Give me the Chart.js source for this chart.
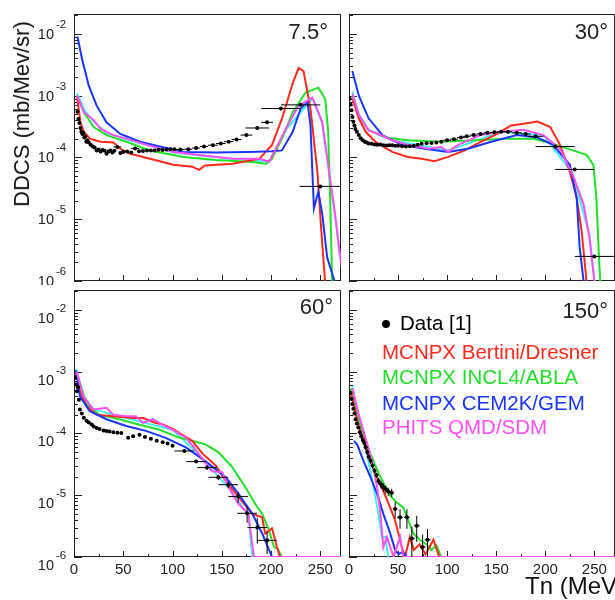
<!DOCTYPE html>
<html>
<head>
<meta charset="utf-8">
<script src="https://cdn.jsdelivr.net/npm/chart.js@4.4.1/dist/chart.umd.min.js"></script>
<style>
  html, body { margin: 0; padding: 0; background: #fff; overflow: hidden; }
  body { width: 615px; height: 600px; position: relative; font-family: 'Liberation Sans', Arial, sans-serif; }
  canvas { position: absolute; }
  .lbl { position: absolute; white-space: nowrap; line-height: 1; }
  .ang { font-size: 22px; color: #222; text-align: right; }
  .leg { font-size: 20.5px; left: 382px; }
</style>
</head>
<body>
<canvas id="c7" width="345" height="285" style="left:0;top:0"></canvas>
<canvas id="c30" width="274" height="285" style="left:345px;top:0"></canvas>
<canvas id="c60" width="345" height="314" style="left:0;top:286px"></canvas>
<canvas id="c150" width="274" height="314" style="left:345px;top:286px"></canvas>

<div class="lbl" style="left:21.5px;top:113.5px;font-size:22px;color:#111;transform:translate(-50%,-50%) rotate(-90deg)">DDCS (mb/Mev/sr)</div>
<div class="lbl" style="left:525px;top:574px;font-size:24px;color:#111">Tn (MeV)</div>

<div class="lbl ang" style="right:287px;top:21px">7.5°</div>
<div class="lbl ang" style="right:7px;top:21px">30°</div>
<div class="lbl ang" style="right:282px;top:296px">60°</div>
<div class="lbl ang" style="right:7px;top:300px">150°</div>

<div style="position:absolute;left:382px;top:320px;width:8px;height:8px;border-radius:50%;background:#000"></div>
<div class="lbl leg" style="left:400px;top:313px;color:#000">Data [1]</div>
<div class="lbl leg" style="top:342px;color:#ff2a1e">MCNPX Bertini/Dresner</div>
<div class="lbl leg" style="top:367px;color:#22dd2a">MCNPX INCL4/ABLA</div>
<div class="lbl leg" style="top:393px;color:#1a35ff">MCNPX CEM2K/GEM</div>
<div class="lbl leg" style="top:417px;color:#ff50f0">PHITS QMD/SDM</div>

<script>
// axis ticks
const X_TICKS = [0, 50, 100, 150, 200, 250];
const Y_TICKS = [1e-6, 1e-5, 1e-4, 1e-3, 1e-2];
const Y_TICK_EXP = ['-6', '-5', '-4', '-3', '-2'];

// ---- 7.5 deg ----
const T_DATA_7 = [3.5, 4.5, 5.5, 6.5, 7.5, 8.5, 9.5, 10.5, 11.5, 12.5, 13.5, 15, 17, 19, 21, 23, 25, 27, 29, 31, 33, 35, 37, 39, 41, 44, 47, 50, 54, 58, 62, 66, 70, 74, 78, 82, 86, 90, 94, 98, 102, 108, 116, 124, 132, 141, 149, 157, 165, 175, 186, 196, 210, 230, 250];
const V_DATA_7 = [5.5e-4, 4.2e-4, 3.6e-4, 3.0e-4, 2.6e-4, 2.4e-4, 2.5e-4, 2.1e-4, 2.2e-4, 1.8e-4, 1.9e-4, 1.75e-4, 1.6e-4, 1.5e-4, 1.45e-4, 1.3e-4, 1.35e-4, 1.25e-4, 1.32e-4, 1.28e-4, 1.15e-4, 1.25e-4, 1.3e-4, 1.2e-4, 1.28e-4, 1.48e-4, 1.18e-4, 1.22e-4, 1.25e-4, 1.2e-4, 1.4e-4, 1.26e-4, 1.27e-4, 1.3e-4, 1.3e-4, 1.3e-4, 1.33e-4, 1.32e-4, 1.34e-4, 1.36e-4, 1.36e-4, 1.34e-4, 1.36e-4, 1.42e-4, 1.5e-4, 1.58e-4, 1.68e-4, 1.8e-4, 1.95e-4, 2.3e-4, 3.0e-4, 3.7e-4, 6.2e-4, 7.1e-4, 3.4e-5];
const XERR_7 = [0, 0, 0, 0, 0, 0, 0, 0, 0, 0, 0, 0, 0, 0, 0, 0, 0, 0, 0, 0, 0, 0, 0, 0, 0, 4, 0, 0, 0, 0, 4, 0, 0, 0, 0, 0, 0, 0, 0, 0, 0, 4, 4, 4, 4, 5, 5, 5, 5, 6, 12, 6, 20, 20, 21];
const T_BER_7 = [3, 6.5, 10, 16.5, 27, 40, 48, 57, 77, 101, 120, 127, 133, 161, 188, 201, 211, 222, 228, 233, 240, 247, 251, 255, 258];
const V_BER_7 = [1.0e-3, 3.7e-4, 2.6e-4, 2.0e-4, 1.8e-4, 1.75e-4, 1.35e-4, 1.15e-4, 9.5e-5, 7.6e-5, 7.1e-5, 6.3e-5, 7.4e-5, 7.9e-5, 9.5e-5, 1.6e-4, 4.2e-4, 1.6e-3, 2.8e-3, 2.5e-3, 6.2e-4, 5.9e-5, 6.5e-6, 9e-7, 5e-7];
const T_INC_7 = [3, 10, 20, 33, 54, 77, 111, 144, 178, 195, 201, 211, 222, 235, 248, 255, 258, 260, 262, 264];
const V_INC_7 = [1.0e-3, 5.4e-4, 3.1e-4, 2.3e-4, 1.78e-4, 1.3e-4, 1.02e-4, 9.1e-5, 8.5e-5, 7.9e-5, 9.5e-5, 2.0e-4, 5.4e-4, 1.12e-3, 1.35e-3, 8.9e-4, 2.6e-4, 2.2e-5, 1.0e-6, 5e-7];
const T_CEM_7 = [3.5, 8.2, 15, 23, 33, 47, 67, 87, 111, 144, 178, 201, 211, 222, 230, 237, 240, 243.5, 248, 252, 257, 264, 267];
const V_CEM_7 = [9.1e-3, 3.9e-3, 1.45e-3, 6.9e-4, 3.7e-4, 2.4e-4, 1.8e-4, 1.5e-4, 1.23e-4, 1.2e-4, 1.23e-4, 1.26e-4, 1.3e-4, 2.6e-4, 6.2e-4, 7.8e-4, 3.3e-4, 1.5e-5, 2.8e-5, 1.2e-5, 2.4e-6, 1.05e-6, 5e-7];
const T_QMD_7 = [3, 10, 20, 27, 40, 54, 74, 101, 127, 161, 188, 198, 205, 215, 228, 242, 252, 258, 265, 270, 274];
const V_QMD_7 = [1.0e-3, 5.4e-4, 4.0e-4, 2.9e-4, 2.3e-4, 2.0e-4, 1.6e-4, 1.23e-4, 1.1e-4, 9.5e-5, 9.5e-5, 8.5e-5, 1.38e-4, 2.9e-4, 6.9e-4, 9.3e-4, 3.7e-4, 7.6e-5, 1.2e-5, 2.6e-6, 1e-6];
const T_CYN_7 = [3, 10, 20, 33, 54, 101, 161, 198, 215, 242, 252, 265, 270];
const V_CYN_7 = [1.1e-3, 6.0e-4, 3.8e-4, 2.5e-4, 1.95e-4, 1.2e-4, 9.4e-5, 8.6e-5, 2.8e-4, 9.0e-4, 3.6e-4, 1.1e-5, 2.4e-6];

// ---- 30 deg ----
const T_DATA_30 = [0.7, 1.5, 2.5, 3.5, 4.5, 5.5, 6.5, 8, 10, 12, 14, 16, 18, 20, 23, 26, 29, 32, 35, 38, 41, 44, 47, 50, 54, 58, 62, 66, 70, 74, 79, 84, 89, 94, 100, 107, 114, 120, 127, 134, 141, 148, 155, 162, 171, 180, 190, 210, 230, 250];
const V_DATA_30 = [8.9e-4, 7.2e-4, 5.8e-4, 4.5e-4, 3.8e-4, 3.3e-4, 2.9e-4, 2.6e-4, 2.3e-4, 2.05e-4, 1.9e-4, 1.8e-4, 1.75e-4, 1.68e-4, 1.66e-4, 1.62e-4, 1.6e-4, 1.62e-4, 1.58e-4, 1.56e-4, 1.58e-4, 1.58e-4, 1.55e-4, 1.55e-4, 1.52e-4, 1.5e-4, 1.52e-4, 1.55e-4, 1.6e-4, 1.66e-4, 1.7e-4, 1.72e-4, 1.75e-4, 1.8e-4, 1.9e-4, 1.98e-4, 2.1e-4, 2.2e-4, 2.3e-4, 2.4e-4, 2.5e-4, 2.55e-4, 2.6e-4, 2.6e-4, 2.5e-4, 2.4e-4, 2.2e-4, 1.5e-4, 6.4e-5, 2.5e-6];
const XERR_30 = [0, 0, 0, 0, 0, 0, 0, 0, 0, 0, 0, 0, 0, 0, 0, 0, 0, 0, 0, 0, 0, 0, 0, 0, 0, 0, 0, 0, 0, 0, 0, 0, 0, 0, 4, 4, 4, 4, 4, 4, 4, 4, 4, 4, 5, 5, 8, 20, 20, 20];
const T_BER_30 = [3.4, 10, 17, 27, 44, 60, 74, 87, 101, 118, 134, 151, 165, 178, 192, 205, 215, 225, 232, 237, 242, 244];
const V_BER_30 = [8.9e-4, 4.3e-4, 2.6e-4, 1.78e-4, 1.23e-4, 1.02e-4, 9.5e-5, 8.7e-5, 1.02e-4, 1.3e-4, 1.78e-4, 2.4e-4, 3.3e-4, 3.5e-4, 3.8e-4, 3.1e-4, 1.6e-4, 5.9e-5, 2.2e-5, 6.5e-6, 1e-6, 5e-7];
const T_INC_30 = [3.4, 10, 20, 37, 60, 94, 128, 161, 188, 208, 228, 242, 249, 252, 255, 257];
const V_INC_30 = [1.0e-3, 4.8e-4, 2.75e-4, 2.1e-4, 1.9e-4, 1.8e-4, 1.9e-4, 2.0e-4, 2.0e-4, 1.66e-4, 1.3e-4, 1.1e-4, 7.6e-5, 2.2e-5, 1.9e-6, 5e-7];
const T_CEM_30 = [3.4, 10, 20, 34, 54, 77, 101, 121, 144, 171, 192, 208, 225, 232, 235, 239, 241];
const V_CEM_30 = [2.5e-3, 1.0e-3, 4.3e-4, 2.3e-4, 1.6e-4, 1.38e-4, 1.23e-4, 1.38e-4, 1.78e-4, 2.3e-4, 2.1e-4, 1.6e-4, 7.6e-5, 2.2e-5, 3.5e-6, 1e-6, 5e-7];
const T_QMD_30 = [3.4, 10, 20, 30, 44, 60, 81, 94, 101, 111, 134, 155, 178, 198, 215, 228, 239, 245, 250, 252];
const V_QMD_30 = [1.07e-3, 4.8e-4, 2.75e-4, 2.4e-4, 1.9e-4, 1.6e-4, 1.38e-4, 1.48e-4, 1.23e-4, 1.6e-4, 2.3e-4, 2.6e-4, 2.8e-4, 2.3e-4, 1.38e-4, 5.2e-5, 1.74e-5, 5e-6, 1e-6, 5e-7];
const T_CYN_30 = [3.4, 10, 20, 44, 101, 155, 198, 228, 245, 250, 252];
const V_CYN_30 = [1.15e-3, 5.0e-4, 2.8e-4, 1.9e-4, 1.3e-4, 2.6e-4, 2.3e-4, 5.5e-5, 5.5e-6, 1e-6, 5e-7];

// ---- 60 deg ----
const T_DATA_60 = [1, 2, 3, 4, 5, 6, 8, 10, 12.8, 15, 18, 20, 23, 26, 30, 33, 36, 40, 44, 48, 55, 60, 66.5, 72, 78, 84, 90, 95, 100, 112, 124, 135, 146.5, 156.6, 166.7, 175.7, 186, 196];
const V_DATA_60 = [7.9e-4, 6.2e-4, 4.8e-4, 5.6e-4, 3.5e-4, 2.45e-4, 2.1e-4, 1.8e-4, 1.6e-4, 1.5e-4, 1.4e-4, 1.3e-4, 1.23e-4, 1.18e-4, 1.12e-4, 1.1e-4, 1.08e-4, 1.05e-4, 1.03e-4, 1.02e-4, 8.5e-5, 9.0e-5, 9.5e-5, 8.8e-5, 8.2e-5, 7.6e-5, 7.2e-5, 6.9e-5, 6.3e-5, 5.2e-5, 3.5e-5, 2.8e-5, 1.95e-5, 1.48e-5, 9.5e-6, 5.1e-6, 3.0e-6, 1.86e-6];
const XERR_60 = [0, 0, 0, 0, 0, 0, 0, 0, 0, 0, 0, 0, 0, 0, 0, 0, 0, 0, 0, 0, 0, 0, 0, 0, 0, 0, 0, 0, 0, 10, 10, 10, 10, 10, 10, 10, 10, 10];
const YERR_60 = [0, 0, 0, 0, 0, 0, 0, 0, 0, 0, 0, 0, 0, 0, 0, 0, 0, 0, 0, 0, 0, 0, 0, 0, 0, 0, 0, 0, 0, 0.05, 0.05, 0.08, 0.1, 0.12, 0.2, 0.3, 0.45, 0.4];
const T_BER_60 = [2, 6, 12.8, 23, 40, 60, 70, 83, 90, 100, 110, 120, 130, 144, 154, 167, 181, 191, 194, 201, 206, 209, 211];
const V_BER_60 = [1.0e-3, 4.8e-4, 2.75e-4, 2.0e-4, 1.9e-4, 1.78e-4, 1.78e-4, 1.48e-4, 1.4e-4, 1.2e-4, 9.5e-5, 7.6e-5, 4.8e-5, 3.0e-5, 1.7e-5, 9.3e-6, 5.0e-6, 4.4e-6, 2.4e-6, 2.9e-6, 1.45e-6, 1e-6, 5e-7];
const T_INC_60 = [2, 12.8, 26, 46, 66.5, 87, 107, 120, 134, 147, 161, 174, 184, 191, 198, 203, 207, 211, 213];
const V_INC_60 = [1.05e-3, 2.95e-4, 2.0e-4, 1.7e-4, 1.38e-4, 1.15e-4, 8.5e-5, 7.6e-5, 6.6e-5, 4.9e-5, 2.8e-5, 1.35e-5, 7.2e-6, 5.0e-6, 2.7e-6, 1.45e-6, 1.35e-6, 1e-6, 5e-7];
const T_CEM_60 = [2, 6, 16, 33, 53, 73, 93, 114, 134, 154, 167, 181, 191, 198, 201, 203];
const V_CEM_60 = [1.05e-3, 4.0e-4, 2.3e-4, 1.7e-4, 1.32e-4, 1.1e-4, 8.5e-5, 5.9e-5, 3.5e-5, 1.95e-5, 1.05e-5, 5.0e-6, 2.4e-6, 1.3e-6, 1e-6, 5e-7];
const T_QMD_60 = [2.7, 9.4, 19.5, 33, 40, 53, 63, 70, 80, 90, 100, 114, 127, 140, 150.5, 157, 167, 177, 182.5, 271];
const V_QMD_60 = [1.0e-3, 4.0e-4, 2.45e-4, 2.6e-4, 2.0e-4, 1.9e-4, 1.9e-4, 1.48e-4, 1.7e-4, 1.38e-4, 1.15e-4, 8.5e-5, 4.6e-5, 2.45e-5, 2.35e-5, 1.35e-5, 7.2e-6, 5.0e-6, 1e-6, 1e-6];
const T_CYN_60 = [2, 9.4, 19.5, 40, 100, 127, 157, 177, 181, 185];
const V_CYN_60 = [1.1e-3, 4.1e-4, 2.5e-4, 2.0e-4, 1.15e-4, 4.5e-5, 1.3e-5, 4.8e-6, 1e-6, 5e-7];

// ---- 150 deg ----
const T_DATA_150 = [1.5, 2.5, 3.5, 4.5, 5.5, 6.7, 8, 9.5, 11, 12.5, 14, 15.5, 17, 18.5, 20, 22, 24, 26, 28, 30, 32.5, 35, 37.5, 40, 43.5, 47, 52, 59, 64, 69, 75, 80];
const V_DATA_150 = [4.5e-4, 3.6e-4, 3.0e-4, 2.5e-4, 2.1e-4, 1.7e-4, 1.45e-4, 1.25e-4, 1.05e-4, 9.0e-5, 7.8e-5, 7.0e-5, 6.0e-5, 5.0e-5, 4.2e-5, 3.6e-5, 3.0e-5, 2.5e-5, 2.1e-5, 1.7e-5, 1.5e-5, 1.35e-5, 1.25e-5, 1.15e-5, 1.1e-5, 6.0e-6, 4.4e-6, 4.4e-6, 2.0e-6, 3.2e-6, 1.45e-6, 1.9e-6];
const XERR_150 = [1, 1, 1, 1, 1, 1, 1, 1, 1, 1, 1.5, 1.5, 1.5, 1.5, 1.5, 1.5, 1.5, 1.5, 1.5, 1.5, 2.5, 2.5, 2.5, 2.5, 2.5, 2.5, 3, 3, 3, 3, 3, 3];
const YERR_150 = [0.05, 0.05, 0.05, 0.05, 0.05, 0.05, 0.05, 0.05, 0.1, 0.1, 0.1, 0.1, 0.1, 0.1, 0.1, 0.1, 0.1, 0.1, 0.1, 0.12, 0.15, 0.15, 0.15, 0.15, 0.15, 0.3, 0.35, 0.35, 0.55, 0.45, 0.6, 0.5];
const T_BER_150 = [1.7, 8.4, 15, 22, 28.6, 35, 42, 47, 50.4, 53.8, 57, 62, 66, 72, 78, 86, 92, 95];
const V_BER_150 = [4.8e-4, 1.6e-4, 7.6e-5, 3.5e-5, 1.95e-5, 1.17e-5, 6.3e-6, 3.9e-6, 2.4e-6, 1.45e-6, 1e-6, 2.1e-6, 1.3e-6, 1.6e-6, 1.1e-6, 1.9e-6, 1e-6, 5e-7];
const T_INC_150 = [1.7, 8.4, 15, 22, 32, 42, 48.7, 55.4, 60.5, 65.5, 72, 79, 84, 89, 94, 96];
const V_INC_150 = [5.4e-4, 2.0e-4, 9.5e-5, 4.6e-5, 1.95e-5, 9.8e-6, 7.6e-6, 6.3e-6, 3.9e-6, 2.4e-6, 1.9e-6, 1.6e-6, 1.3e-6, 1.55e-6, 1e-6, 5e-7];
const T_CEM_150 = [5, 8.4, 15, 22, 28.6, 35, 42, 47, 50.4, 55, 59, 61];
const V_CEM_150 = [7.6e-5, 6.6e-5, 3.5e-5, 1.95e-5, 1.05e-5, 5.0e-6, 2.4e-6, 1.3e-6, 1.12e-6, 1.2e-6, 1e-6, 5e-7];
const T_QMD_150 = [3.4, 10, 16.8, 23.5, 28.6, 32, 35, 38.6, 42, 45.4, 52, 55.4, 271];
const V_QMD_150 = [5.4e-4, 2.0e-4, 8.5e-5, 3.5e-5, 1.35e-5, 5.0e-6, 1.45e-6, 2.1e-6, 1.45e-6, 1e-6, 2.1e-6, 1e-6, 1e-6];
const T_CYN_150 = [3.4, 10, 18.5, 25, 30, 33.6, 37, 40, 42];
const V_CYN_150 = [5.8e-4, 1.6e-4, 4.6e-5, 1.35e-5, 5.0e-6, 2.1e-6, 2.1e-6, 1e-6, 5e-7];

const colors = {
  ber: '#ff2a1e',
  inc: '#22e02a',
  cem: '#1a35ff',
  qmd: '#ff50f0',
  cyn: '#40f4f4'
};

const FONT = "'Liberation Sans', Arial, sans-serif";
Chart.defaults.font.family = FONT;

function pts(T, V) {
  return T.map((t, i) => ({x: t, y: V[i]}));
}

function curve(T, V, color) {
  return {data: pts(T, V), borderColor: color, borderWidth: 2, pointRadius: 0, tension: 0, fill: false};
}

function dataSet(T, V, xe, ye) {
  return {
    data: pts(T, V), showLine: false, pointRadius: 2, pointBackgroundColor: '#000',
    pointBorderWidth: 0, borderColor: '#000', errX: xe, errY: ye
  };
}

// ROOT style frame with inside ticks, and 10^n labels on the left
const rootFrame = {
  id: 'rootFrame',
  beforeDatasetsDraw(chart, args, opts) {
    const {ctx, chartArea: a, scales: {x, y}} = chart;
    ctx.save();
    ctx.strokeStyle = '#222';
    ctx.lineWidth = 1;
    ctx.beginPath();
    for (let e = -6; e <= -2; e++) {
      for (let m = 1; m <= 9; m++) {
        const v = m * Math.pow(10, e);
        if (v > y.max) break;
        const py = Math.round(y.getPixelForValue(v)) + 0.5;
        ctx.moveTo(a.left, py);
        ctx.lineTo(a.left + (m === 1 ? 8 : 4), py);
      }
    }
    for (let t = 25; t < x.max; t += 25) {
      const px = Math.round(x.getPixelForValue(t)) + 0.5;
      ctx.moveTo(px, a.bottom);
      ctx.lineTo(px, a.bottom - (t % 50 === 0 ? 6 : 3));
    }
    ctx.stroke();
    ctx.strokeRect(a.left + 0.5, a.top + 0.5, a.right - a.left - 1, a.bottom - a.top - 1);

    if (opts.yLabels) {
      ctx.fillStyle = '#222';
      ctx.textBaseline = 'alphabetic';
      Y_TICKS.forEach((v, i) => {
        const py = y.getPixelForValue(v) + opts.labelShift;
        ctx.font = '14.5px ' + FONT;
        ctx.textAlign = 'right';
        ctx.fillText('10', a.left - 20, py + 5);
        ctx.font = '11.5px ' + FONT;
        ctx.textAlign = 'left';
        ctx.fillText(Y_TICK_EXP[i], a.left - 18, py - 6);
      });
    }
    ctx.restore();
  }
};

const errorBars = {
  id: 'errorBars',
  afterDatasetsDraw(chart) {
    const {ctx, chartArea: a, scales: {x, y}} = chart;
    ctx.save();
    ctx.beginPath();
    ctx.rect(a.left, a.top, a.right - a.left, a.bottom - a.top);
    ctx.clip();
    ctx.strokeStyle = '#000';
    ctx.lineWidth = 1;
    chart.data.datasets.forEach(ds => {
      if (!ds.errX) return;
      ds.data.forEach((p, i) => {
        const ex = ds.errX[i] || 0;
        const ey = ds.errY ? ds.errY[i] : 0;
        const px = x.getPixelForValue(p.x), py = y.getPixelForValue(p.y);
        ctx.beginPath();
        if (ex) {
          ctx.moveTo(x.getPixelForValue(p.x - ex), py);
          ctx.lineTo(x.getPixelForValue(p.x + ex), py);
        }
        if (ey) {
          ctx.moveTo(px, y.getPixelForValue(p.y * (1 + ey)));
          ctx.lineTo(px, y.getPixelForValue(p.y * Math.max(1 - ey, 0.05)));
        }
        ctx.stroke();
      });
    });
    ctx.restore();
  }
};

function noPad(s) {
  s.paddingLeft = 0; s.paddingRight = 0; s.paddingTop = 0; s.paddingBottom = 0;
}

function panel(id, datasets, o) {
  new Chart(document.getElementById(id), {
    type: 'line',
    data: {datasets: datasets},
    plugins: [rootFrame, errorBars],
    options: {
      responsive: false,
      animation: false,
      events: [],
      layout: {padding: o.pad},
      plugins: {
        legend: {display: false},
        tooltip: {enabled: false},
        rootFrame: {yLabels: o.yLabels, labelShift: o.labelShift || 0}
      },
      scales: {
        x: {
          type: 'linear', min: 0, max: 271,
          display: o.showX,
          grid: {display: false, drawTicks: false},
          border: {display: false},
          afterBuildTicks: s => { s.ticks = X_TICKS.map(v => ({value: v})); },
          afterFit: s => { s.height = o.showX ? 43 : 0; noPad(s); },
          ticks: {padding: 4, color: '#222', font: {size: 15}, maxRotation: 0}
        },
        y: {
          type: 'logarithmic', min: 1e-6, max: 0.021,
          display: false,
          afterFit: s => { s.width = 0; noPad(s); }
        }
      }
    }
  });
}

panel('c7', [
  dataSet(T_DATA_7, V_DATA_7, XERR_7, null),
  curve(T_QMD_7, V_QMD_7, colors.qmd),
  curve(T_CEM_7, V_CEM_7, colors.cem),
  curve(T_BER_7, V_BER_7, colors.ber),
  curve(T_INC_7, V_INC_7, colors.inc),
  curve(T_CYN_7, V_CYN_7, colors.cyn)
], {showX: false, yLabels: true, labelShift: 0, pad: {top: 14, right: 2, bottom: 2, left: 74}});

panel('c30', [
  dataSet(T_DATA_30, V_DATA_30, XERR_30, null),
  curve(T_QMD_30, V_QMD_30, colors.qmd),
  curve(T_CEM_30, V_CEM_30, colors.cem),
  curve(T_BER_30, V_BER_30, colors.ber),
  curve(T_INC_30, V_INC_30, colors.inc),
  curve(T_CYN_30, V_CYN_30, colors.cyn)
], {showX: false, yLabels: false, pad: {top: 14, right: 3, bottom: 2, left: 2}});

panel('c60', [
  dataSet(T_DATA_60, V_DATA_60, XERR_60, YERR_60),
  curve(T_QMD_60, V_QMD_60, colors.qmd),
  curve(T_CEM_60, V_CEM_60, colors.cem),
  curve(T_BER_60, V_BER_60, colors.ber),
  curve(T_INC_60, V_INC_60, colors.inc),
  curve(T_CYN_60, V_CYN_60, colors.cyn)
], {showX: true, yLabels: true, labelShift: 8, pad: {top: 2, right: 2, bottom: 0, left: 74}});

panel('c150', [
  dataSet(T_DATA_150, V_DATA_150, XERR_150, YERR_150),
  curve(T_QMD_150, V_QMD_150, colors.qmd),
  curve(T_CEM_150, V_CEM_150, colors.cem),
  curve(T_BER_150, V_BER_150, colors.ber),
  curve(T_INC_150, V_INC_150, colors.inc),
  curve(T_CYN_150, V_CYN_150, colors.cyn)
], {showX: true, yLabels: false, pad: {top: 2, right: 2, bottom: 0, left: 3}});
</script>
</body>
</html>
